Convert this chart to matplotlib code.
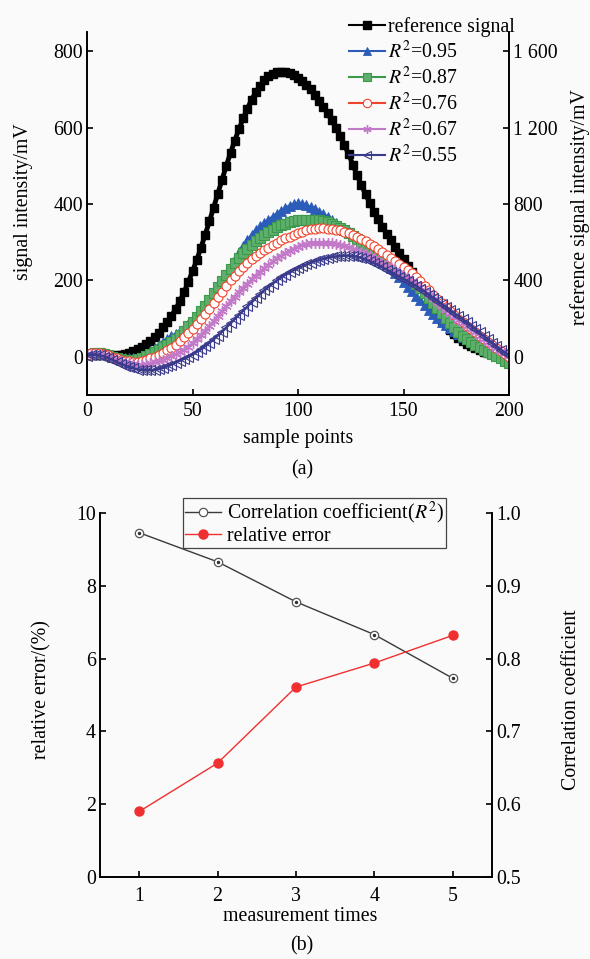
import numpy as np
import matplotlib
matplotlib.use('Agg')
import matplotlib.pyplot as plt
from matplotlib.ticker import FuncFormatter, FixedLocator

plt.rcParams['font.family'] = ['Liberation Serif', 'DejaVu Serif']
plt.rcParams['mathtext.fontset'] = 'stix'
plt.rcParams['font.size'] = 14.3

# === data (a): signals sampled every 2 points ===
sample_points = np.arange(0, 201, 2)

reference_signal = [  # right axis, mV
    10, 12, 12, 10, 8, 6, 6, 8, 12, 16,
    22, 30, 40, 52, 66, 84, 104, 126, 154, 185,
    215, 250, 292, 340, 392, 448, 508, 572, 640, 710,
    782, 855, 928, 1000, 1068, 1132, 1192, 1248, 1300, 1346,
    1386, 1420, 1448, 1468, 1482, 1490, 1492, 1490, 1484, 1474,
    1462, 1445, 1424, 1400, 1372, 1342, 1310, 1275, 1238, 1198,
    1156, 1110, 1060, 1005, 950, 900, 852, 805, 760, 720,
    682, 645, 610, 577, 545, 512, 478, 443, 408, 372,
    335, 297, 260, 225, 194, 166, 141, 119, 100, 83,
    68, 55, 44, 34, 26, 19, 13, 8, 4, 1,
    -2]

sig_095 = [
    5, 8, 10, 10, 8, 5, 2, 0, -2, -3,
    -4, -4, -2, 2, 8, 16, 24, 32, 40, 48,
    54, 61, 68, 76, 85, 95, 105, 116, 128, 142,
    158, 176, 196, 216, 236, 256, 274, 291, 306, 320,
    332, 342, 351, 359, 367, 375, 383, 390, 396, 400,
    402, 401, 398, 392, 386, 380, 374, 367, 359, 351,
    343, 336, 329, 320, 310, 298, 291, 284, 274, 264,
    254, 243, 232, 220, 208, 196, 184, 172, 160, 148,
    136, 124, 113, 102, 92, 83, 75, 67, 60, 53,
    46, 40, 34, 28, 22, 17, 12, 7, 2, -3,
    -8]

sig_087 = [
    5, 8, 10, 9, 7, 4, 0, -3, -6, -8,
    -8, -7, -5, -2, 2, 8, 13, 19, 25, 32,
    40, 48, 58, 68, 80, 92, 105, 119, 134, 150,
    166, 182, 198, 214, 230, 245, 259, 272, 283, 293,
    303, 312, 320, 327, 333, 339, 344, 349, 352, 355,
    357, 358, 359, 359, 358, 357, 355, 352, 348, 343,
    337, 331, 324, 316, 308, 300, 292, 284, 276, 268,
    260, 253, 246, 238, 230, 222, 213, 203, 192, 180,
    167, 153, 140, 127, 114, 102, 88, 77, 66, 56,
    47, 39, 32, 25, 19, 13, 8, 3, -3, -10,
    -17]

sig_076 = [
    6, 9, 10, 9, 7, 4, 0, -4, -7, -10,
    -12, -13, -13, -11, -8, -4, 0, 5, 11, 17,
    24, 32, 41, 51, 62, 74, 86, 98, 112, 126,
    141, 156, 171, 186, 200, 213, 225, 236, 246, 255,
    263, 271, 279, 286, 293, 299, 305, 310, 315, 320,
    324, 328, 331, 334, 336, 337, 337, 336, 335, 333,
    331, 328, 324, 320, 315, 309, 303, 296, 289, 282,
    275, 267, 259, 251, 243, 235, 227, 219, 209, 198,
    186, 174, 162, 151, 140, 130, 120, 110, 100, 91,
    82, 73, 64, 56, 48, 40, 32, 24, 16, 8,
    0]

sig_067 = [
    4, 7, 8, 7, 5, 2, -2, -6, -10, -14,
    -17, -19, -20, -20, -19, -17, -14, -11, -7, -3,
    2, 7, 12, 19, 27, 36, 46, 57, 69, 81,
    94, 107, 120, 133, 146, 158, 170, 181, 192, 203,
    213, 223, 232, 241, 250, 258, 265, 272, 278, 283,
    288, 292, 295, 297, 298, 299, 299, 298, 297, 295,
    293, 290, 287, 283, 279, 274, 269, 264, 258, 252,
    246, 240, 234, 227, 220, 213, 206, 199, 191, 182,
    172, 162, 152, 142, 133, 124, 115, 106, 97, 88,
    80, 72, 64, 56, 48, 40, 32, 24, 16, 9,
    2]

sig_055 = [
    3, 5, 6, 4, 1, -3, -8, -13, -18, -23,
    -27, -30, -33, -34, -35, -35, -34, -32, -29, -25,
    -20, -15, -10, -5, 0, 6, 13, 20, 28, 37,
    46, 56, 66, 77, 88, 99, 110, 121, 132, 143,
    154, 164, 174, 183, 192, 200, 208, 215, 221, 227,
    232, 237, 242, 246, 250, 253, 256, 259, 261, 263,
    264, 265, 265, 264, 262, 259, 255, 250, 245, 240,
    234, 228, 222, 216, 210, 204, 198, 192, 185, 178,
    171, 163, 155, 147, 139, 131, 123, 115, 107, 99,
    91, 82, 73, 64, 55, 46, 37, 28, 19, 11,
    4]

series_labels = [r'$R^2$=0.95', r'$R^2$=0.87', r'$R^2$=0.76', r'$R^2$=0.67', r'$R^2$=0.55']

# === data (b) ===
measurement_times = [1, 2, 3, 4, 5]
relative_error = [1.8, 3.13, 5.22, 5.88, 6.64]
correlation = [0.973, 0.933, 0.878, 0.833, 0.773]

bg = '#fafafa'
fig = plt.figure(figsize=(5.9, 9.59), dpi=100, facecolor=bg)


def style_axes(ax):
    for side in ['left', 'bottom', 'right']:
        ax.spines[side].set_linewidth(1.2)
    ax.spines['top'].set_visible(False)
    ax.tick_params(direction='in', length=4, width=1.2, pad=3)


# ---------- panel (a) ----------
ax1 = fig.add_axes([0.1475, 0.588, 0.7153, 0.3785])
ax2 = ax1.twinx()
ax1.set_zorder(ax2.get_zorder() + 1)
ax1.patch.set_visible(False)
ax2.set_facecolor(bg)

h_ref, = ax2.plot(sample_points, reference_signal, color='black', marker='s',
                  markersize=6.2, lw=3.5, label='reference signal')

styles = [
    dict(color='#2a5cb8', marker='^', markersize=7.5, mfc='#2a5cb8', mew=0.6),
    dict(color='#3a9a4a', marker='s', markersize=6.5, mfc='#5fae6c', mew=0.8),
    dict(color='#f0442c', marker='o', markersize=6.5, mfc='white', mew=0.8),
    dict(color='#c27ac8', marker=(6, 2, 0), markersize=7.5, mew=1.0),
    dict(color='#3a3a8c', marker='<', markersize=7.5, mfc='none', mew=0.8),
]
handles = [h_ref]
for vals, lab, st in zip([sig_095, sig_087, sig_076, sig_067, sig_055], series_labels, styles):
    h, = ax1.plot(sample_points, vals, lw=1.8, label=lab, **st)
    handles.append(h)

ax1.set_xlim(0, 200)
ax1.set_ylim(-100, 850)
ax2.set_ylim(-200, 1700)
ax1.set_xticks([0, 50, 100, 150, 200])
ax1.set_yticks([0, 200, 400, 600, 800])
ax2.yaxis.set_major_locator(FixedLocator([0, 400, 800, 1200, 1600]))
ax2.yaxis.set_major_formatter(FuncFormatter(lambda v, p: '{:,}'.format(int(v)).replace(',', ' ')))
style_axes(ax1)
style_axes(ax2)
ax1.tick_params(axis='x', pad=5)

ax1.set_xlabel('sample points')
ax1.xaxis.set_label_coords(0.5, -0.094)
ax1.set_ylabel('signal intensity/mV')
ax1.yaxis.set_label_coords(-0.128, 0.532)
ax2.set_ylabel('reference signal intensity/mV')
ax2.yaxis.set_label_coords(1.145, 0.518)

leg_a = fig.legend(handles=handles, loc='upper left', bbox_to_anchor=(349 / 590, 1 - 17 / 959),
                   frameon=False, numpoints=1, borderpad=0, borderaxespad=0,
                   handlelength=1.8, handletextpad=0.15, labelspacing=0.2)
for h in leg_a.legend_handles:
    h.set_markersize(6)
    h.set_linewidth(1.5)
fig.text(302 / 590, 1 - 470 / 959, '(a)', ha='center', va='center')

# ---------- panel (b) ----------
ax3 = fig.add_axes([0.1695, 0.0855, 0.6644, 0.3795])
ax4 = ax3.twinx()
ax3.set_zorder(ax4.get_zorder() + 1)
ax3.patch.set_visible(False)
ax4.set_facecolor(bg)

h_cor, = ax4.plot(measurement_times, correlation, color='#3a3a3a', lw=1,
                  marker='o', markersize=6, mfc='white', mec='#555555', mew=0.9,
                  label=r'Correlation coefficient($R^2$)')
ax4.plot(measurement_times, correlation, ls='none', marker='o', markersize=1.5, color='#333333')
h_err, = ax3.plot(measurement_times, relative_error, color='#f03030', lw=1,
                  marker='o', markersize=6.5, label='relative error')

ax3.set_xlim(0.5, 5.5)
ax3.set_ylim(0, 10)
ax4.set_ylim(0.5, 1.0)
ax3.set_xticks(measurement_times)
ax3.set_yticks([0, 2, 4, 6, 8, 10])
ax4.set_yticks([0.5, 0.6, 0.7, 0.8, 0.9, 1.0])
ax4.yaxis.set_major_formatter(FuncFormatter(lambda v, p: '%.1f' % v))
style_axes(ax3)
style_axes(ax4)
ax3.tick_params(axis='x', pad=7)

ax3.set_xlabel('measurement times')
ax3.xaxis.set_label_coords(0.51, -0.083)
ax3.set_ylabel('relative error/(%)')
ax3.yaxis.set_label_coords(-0.125, 0.514)
ax4.set_ylabel('Correlation coefficient')
ax4.yaxis.set_label_coords(1.178, 0.486)

leg = fig.legend(handles=[h_cor, h_err], loc='upper left', bbox_to_anchor=(183 / 590, 1 - 498 / 959),
                 frameon=True, fancybox=False, numpoints=1, borderpad=0.1, borderaxespad=0,
                 handlelength=1.8, handletextpad=0.3, labelspacing=0.02, framealpha=1)
leg.get_frame().set_edgecolor('#444444')
leg.get_frame().set_linewidth(0.9)
leg.get_frame().set_facecolor(bg)
fig.text(302 / 590, 1 - 946 / 959, '(b)', ha='center', va='center')

fig.savefig('out.png', dpi=100, facecolor=bg)
